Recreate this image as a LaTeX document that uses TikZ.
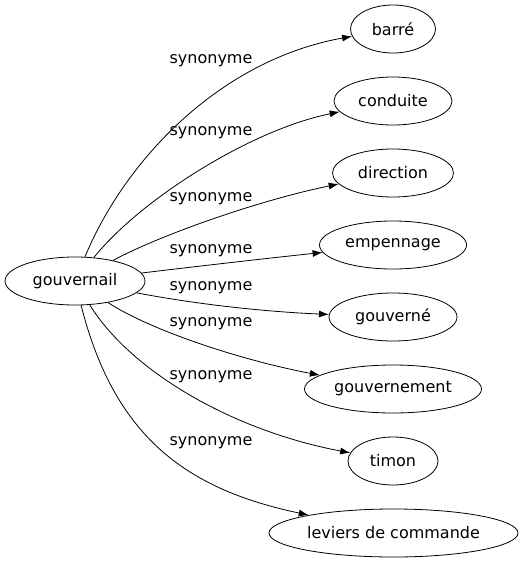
\documentclass[tikz,border=0pt]{standalone}
\usepackage{fontspec}
\setmainfont{DejaVu Sans}
\usepackage{tikz}
\usepgflibrary{arrows.meta}
\usetikzlibrary{shapes.geometric}

\begin{document}
\begin{tikzpicture}[x=1pt,y=-1pt,
        syn arrow/.style={
        arrows = {-Latex[length=10pt,width=7pt]},
        line width=0.8pt
        },
        word/.style={
                ellipse,
                draw,
                line width=0.8pt,
                inner sep=0pt,
                minimum height=48pt,
                font=\fontsize{16}{19}\selectfont
            },
        rel/.style={
                font=\fontsize{16}{19}\selectfont
            }]
        \useasboundingbox (0,0) rectangle (523,563);

        \node [word, minimum width=140pt] (gouvernail) at (75,281) {gouvernail};

        \node [word, minimum width=85pt] (barre) at (393,29) {barré};
        \node [word, minimum width=118pt] (conduite) at (393,101) {conduite};
        \node [word, minimum width=121pt] (direction) at (393,173) {direction};
        \node [word, minimum width=147pt] (empennage) at (393,245) {empennage};
        \node [word, minimum width=128pt] (gouverne) at (393,317) {gouverné};
        \node [word, minimum width=177pt] (gouvernement) at (393,389) {gouvernement};
        \node [word, minimum width=90pt] (timon) at (393,461) {timon};
        \node [word, minimum width=249pt] (leviers) at (393.5,533) {leviers de commande};

        \node [rel] (s1) at (211,61) {synonyme};
        \node [rel] (s2) at (211,133) {synonyme};
        \node [rel] (s3) at (211,199) {synonyme};
        \node [rel] (s4) at (211,251) {synonyme};
        \node [rel] (s5) at (211,288) {synonyme};
        \node [rel] (s6) at (211,324) {synonyme};
        \node [rel] (s7) at (211,377) {synonyme};
        \node [rel] (s8) at (211,443) {synonyme};

        \draw [syn arrow] (gouvernail) .. controls (125,160) and (220,60) .. (barre);
        \draw [syn arrow] (gouvernail) .. controls (140,200) and (250,130) .. (conduite);
        \draw [syn arrow] (gouvernail) .. controls (160,235) and (260,200) .. (direction);
        \draw [syn arrow] (gouvernail) .. controls (200,266) and (270,258) .. (empennage);
        \draw [syn arrow] (gouvernail) .. controls (200,305) and (270,312) .. (gouverne);
        \draw [syn arrow] (gouvernail) .. controls (150,330) and (240,360) .. (gouvernement);
        \draw [syn arrow] (gouvernail) .. controls (130,370) and (230,430) .. (timon);
        \draw [syn arrow] (gouvernail) .. controls (115,440) and (190,490) .. (leviers);
    \end{tikzpicture}
\end{document}
